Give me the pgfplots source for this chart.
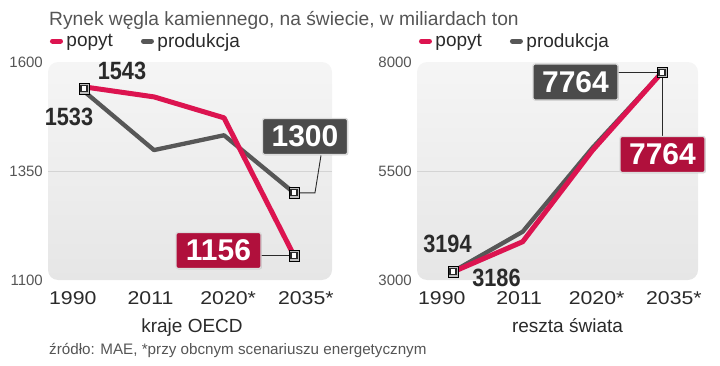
\documentclass[border=0pt]{standalone}
\usepackage{pgfplots}
\pgfplotsset{compat=1.18}
\usepackage{graphicx}
\usepackage{fontspec}
\setmainfont{Liberation Sans}
\usetikzlibrary{shadows}
\definecolor{cred}{HTML}{DC1450}
\definecolor{cgray}{HTML}{575757}
\definecolor{boxred}{HTML}{B0103C}
\definecolor{boxgray}{HTML}{4B4B4B}
\definecolor{bgtop}{HTML}{F5F5F5}
\definecolor{bgbot}{HTML}{E6E6E6}
\definecolor{txtgray}{HTML}{555555}
\definecolor{txtdark}{HTML}{2A2A2A}
\definecolor{halocol}{HTML}{BDBDBD}
\newcommand{\lgA}{\rule{3.5pt}{0pt}popyt\rule{28pt}{0pt}}
\newcommand{\lgB}{\rule{3.5pt}{0pt}produkcja}
\tikzset{
  conn/.style={draw=txtdark, line width=0.9pt},
  valbox/.style={minimum width=85pt, minimum height=36pt, inner sep=0pt, rounded corners=2pt,
    draw=white!86!black, line width=1.3pt, text=white, font=\bfseries\fontsize{30}{30}\selectfont,
    drop shadow={shadow xshift=0.8pt, shadow yshift=-0.8pt, opacity=0.35}},
  numlab/.style={inner sep=0pt, text=txtdark, font=\bfseries\fontsize{25}{25}\selectfont},
}
\pgfplotsset{
  panel/.style={
    scale only axis, height=218pt,
    axis line style={draw=none},
    major tick length=0pt,
    clip=false,
    axis background/.style={top color=bgtop, bottom color=bgbot, rounded corners=10pt},
    xtick={-0.16,0.95,2.06,3.17},
    xticklabels={\scalebox{1.15}[1]{1990},\scalebox{1.15}[1]{2011},\scalebox{1.15}[1]{2020*},\scalebox{1.15}[1]{2035*}},
    xticklabel style={anchor=north, inner sep=0pt, yshift=-11pt, font=\fontsize{18.5}{20}\selectfont, text=txtdark},
    yticklabel style={anchor=east, inner sep=0pt, xshift=-5pt, font=\fontsize{15}{17}\selectfont, text=txtgray},
    /pgf/number format/assume math mode=true,
    /pgf/number format/1000 sep={},
    extra y tick labels={},
    extra y tick style={grid=major, major grid style={draw=black!17, line width=0.8pt}},
    legend columns=-1,
    legend style={draw=none, fill=none, inner sep=0pt, outer sep=0pt, anchor=west, at={(0.007,1.096)},
      font=\fontsize{19}{21}\selectfont, text=txtdark, nodes={inner sep=0pt}, column sep=0pt},
    legend image code/.code={\draw[##1, line width=5pt, line cap=round] (2.5pt,0pt) -- (10.5pt,0pt);},
  },
  redline/.style={draw=cred, line width=5pt, line join=round},
  grayline/.style={draw=cgray, line width=4.3pt, line join=round},
  halo/.style={only marks, mark=square*, mark size=5.2pt, mark options={fill=halocol, draw=none}},
  mk/.style={only marks, mark=square*, mark size=3pt, mark options={fill=white, draw=txtdark, line width=1.3pt}},
}
\begin{document}
\begin{tikzpicture}
\path[use as bounding box] (0,0) rectangle (720pt,-366pt);
% title
\node[anchor=base west, inner sep=0pt, text=txtgray, font=\fontsize{19.2}{21}\selectfont] at (49pt,-26pt) {Rynek węgla kamiennego, na świecie, w miliardach ton};
% left panel
\begin{axis}[panel, name=L, anchor=south west, at={(48pt,-280pt)}, width=284pt,
  xmin=-0.514, xmax=3.543, ymin=1100, ymax=1600, ytick={1100,1350,1600}, extra y ticks={1350}]
\addlegendimage{redline}\addlegendentry{\lgA}
\addlegendimage{grayline}\addlegendentry{\lgB}
\addplot[grayline, forget plot] coordinates {(0,1533) (1,1398) (2,1432) (3,1300)};
\addplot[redline, forget plot] coordinates {(0,1543) (1,1520) (2,1472) (3,1156)};
\draw[conn] (axis cs:3,1300) -- (axis cs:3.3,1300) -- (axis cs:3.386,1386);
\draw[conn] (axis cs:3,1156) -- (axis cs:2.514,1156);
\addplot[halo, forget plot] coordinates {(0,1539) (3,1300) (3,1156)};
\addplot[mk, forget plot] coordinates {(0,1539) (3,1300) (3,1156)};
\end{axis}
% right panel
\begin{axis}[panel, name=R, anchor=south west, at={(417pt,-280pt)}, width=281pt,
  xmin=-0.516, xmax=3.515, ymin=3000, ymax=8000, ytick={3000,5500,8000}, extra y ticks={5500}]
\addlegendimage{redline}\addlegendentry{\lgA}
\addlegendimage{grayline}\addlegendentry{\lgB}
\addplot[grayline, forget plot] coordinates {(0,3194) (1,4108) (2,6030) (3,7764)};
\addplot[redline, forget plot] coordinates {(0,3186) (1,3878) (2,5970) (3,7764)};
\draw[conn] (axis cs:3,7764) -- (axis cs:2.367,7764);
\draw[conn] (axis cs:3,7764) -- (axis cs:3,6280);
\addplot[halo, forget plot] coordinates {(0,3190) (3,7764)};
\addplot[mk, forget plot] coordinates {(0,3190) (3,7764)};
\end{axis}
% value labels
\node[numlab] at (122pt,-70.5pt) {\scalebox{0.87}[1]{1543}};
\node[numlab] at (69pt,-117pt) {\scalebox{0.87}[1]{1533}};
\node[numlab] at (447.5pt,-243.5pt) {\scalebox{0.87}[1]{3194}};
\node[numlab] at (496.5pt,-277.5pt) {\scalebox{0.87}[1]{3186}};
\node[valbox, fill=boxgray] at (305pt,-136.5pt) {1300};
\node[valbox, fill=boxred] at (218.5pt,-250.5pt) {1156};
\node[valbox, fill=boxgray] at (575.5pt,-82pt) {7764};
\node[valbox, fill=boxred] at (662.5pt,-154.5pt) {7764};
% category labels
\node[anchor=base, inner sep=0pt, text=txtdark, font=\fontsize{19}{21}\selectfont] at (192pt,-332pt) {kraje OECD};
\node[anchor=base, inner sep=0pt, text=txtdark, font=\fontsize{19}{21}\selectfont] at (567.5pt,-332pt) {reszta świata};
% source
\node[anchor=base west, inner sep=0pt, text=txtgray, font=\fontsize{15.2}{17}\selectfont] at (49pt,-354pt) {źródło: MAE, *przy obcnym scenariuszu energetycznym};
\end{tikzpicture}
\end{document}
